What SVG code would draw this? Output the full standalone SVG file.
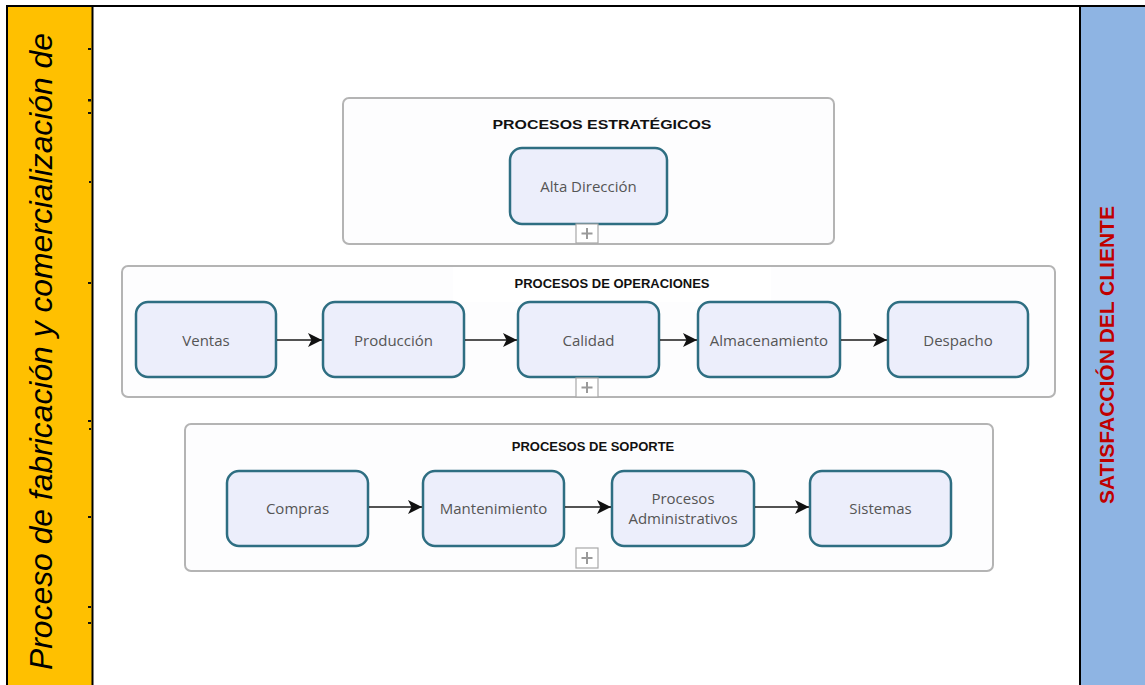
<svg xmlns="http://www.w3.org/2000/svg" width="1145" height="685" viewBox="0 0 1145 685">
  <style>
    .group { fill: #fdfdfe; stroke: #b4b4b4; stroke-width: 2; }
    .node { fill: #eceefb; stroke: #2e6e82; stroke-width: 2.5; }
    .label { font-family: "Open Sans", "Noto Sans", sans-serif; font-size: 15px; fill: #555555; text-anchor: middle; dominant-baseline: central; }
    .title { font-family: "Liberation Sans", Arial, sans-serif; font-weight: bold; font-size: 13px; fill: #111111; text-anchor: middle; }
    .plus { fill: #ffffff; stroke: #a8a8a8; stroke-width: 1.2; }
    .plusmark { stroke: #9a9a9a; stroke-width: 2; }
    .flow { stroke: #1a1a1a; stroke-width: 1.6; fill: none; marker-end: url(#arrow); }
    .tick { fill: #111111; }
  </style>
  <defs>
    <marker id="arrow" viewBox="0 0 14 14" refX="14" refY="7" markerWidth="14" markerHeight="14" markerUnits="userSpaceOnUse" orient="auto">
      <path d="M0,0 L14,7 L0,14 L3.5,7 Z" fill="#111111"/>
    </marker>
  </defs>

  <!-- page background -->
  <rect x="0" y="0" width="1145" height="685" fill="#ffffff"/>

  <!-- left band -->
  <g id="left-band">
    <rect x="8" y="6" width="84" height="679" fill="#ffc000"/>
    <line x1="92.5" y1="5" x2="92.5" y2="685" stroke="#000" stroke-width="2"/>
    <line x1="7" y1="5" x2="7" y2="685" stroke="#000" stroke-width="2"/>
    <text transform="translate(52,670) rotate(-90)" font-family="Liberation Sans, Arial, sans-serif" font-style="italic" font-size="31.5" textLength="637" lengthAdjust="spacingAndGlyphs" fill="#000">Proceso de fabricación y comercialización de</text>
    <rect class="tick" x="88" y="48" width="3" height="2"/>
    <rect class="tick" x="88" y="99" width="3" height="2.5"/>
    <rect class="tick" x="88" y="112" width="3" height="2"/>
    <rect class="tick" x="89" y="181" width="2" height="2"/>
    <rect class="tick" x="88" y="282" width="3" height="2"/>
    <rect class="tick" x="88" y="420" width="3" height="2"/>
    <rect class="tick" x="89" y="428" width="2" height="2"/>
    <rect class="tick" x="88" y="516" width="3" height="2"/>
    <rect class="tick" x="88" y="606" width="3" height="2"/>
    <rect class="tick" x="88" y="622" width="3" height="2"/>
  </g>

  <!-- right band -->
  <g id="right-band">
    <rect x="1081" y="6" width="64" height="679" fill="#8eb4e3"/>
    <line x1="1080" y1="5" x2="1080" y2="685" stroke="#000" stroke-width="2"/>
    <text transform="translate(1114,355) rotate(-90)" font-family="Liberation Sans, Arial, sans-serif" font-weight="bold" font-size="21" fill="#c00000" text-anchor="middle">SATISFACCIÓN DEL CLIENTE</text>
  </g>

  <!-- top rule -->
  <line x1="6" y1="6" x2="1145" y2="6" stroke="#000" stroke-width="2"/>

  <!-- strategic processes -->
  <g id="grp-estrategicos">
    <rect class="group" x="343" y="98" width="491" height="146" rx="6"/>
    <text class="title" x="602" y="129" font-size="15" textLength="219" lengthAdjust="spacingAndGlyphs">PROCESOS ESTRATÉGICOS</text>
    <g id="node-alta-direccion">
      <rect class="node" x="510" y="148" width="157" height="76" rx="12"/>
      <text class="label" x="588.5" y="186">Alta Dirección</text>
    </g>
    <rect class="plus" x="576" y="224" width="22" height="19"/>
    <path class="plusmark" d="M587,228 V239 M581.5,233.5 H592.5"/>
  </g>

  <!-- operations processes -->
  <g id="grp-operaciones">
    <rect class="group" x="122" y="266" width="933" height="131" rx="6"/>
    <rect x="453" y="267" width="318" height="35" fill="#ffffff"/>
    <text class="title" x="612" y="288" font-size="12.5">PROCESOS DE OPERACIONES</text>
    <g id="node-ventas">
      <rect class="node" x="136" y="302" width="140" height="75" rx="12"/>
      <text class="label" x="206" y="340">Ventas</text>
    </g>
    <g id="node-produccion">
      <rect class="node" x="323" y="302" width="141" height="75" rx="12"/>
      <text class="label" x="393.5" y="340">Producción</text>
    </g>
    <g id="node-calidad">
      <rect class="node" x="518" y="302" width="141" height="75" rx="12"/>
      <text class="label" x="588.5" y="340">Calidad</text>
    </g>
    <g id="node-almacenamiento">
      <rect class="node" x="698" y="302" width="142" height="75" rx="12"/>
      <text class="label" x="769" y="340">Almacenamiento</text>
    </g>
    <g id="node-despacho">
      <rect class="node" x="888" y="302" width="140" height="75" rx="12"/>
      <text class="label" x="958" y="340">Despacho</text>
    </g>
    <rect class="plus" x="576" y="378" width="22" height="19"/>
    <path class="plusmark" d="M587,382 V393 M581.5,387.5 H592.5"/>
  </g>

  <!-- support processes -->
  <g id="grp-soporte">
    <rect class="group" x="185" y="424" width="808" height="147" rx="6"/>
    <text class="title" x="593" y="451" font-size="12.5">PROCESOS DE SOPORTE</text>
    <g id="node-compras">
      <rect class="node" x="227" y="471" width="141" height="75" rx="12"/>
      <text class="label" x="297.5" y="508">Compras</text>
    </g>
    <g id="node-mantenimiento">
      <rect class="node" x="423" y="471" width="141" height="75" rx="12"/>
      <text class="label" x="493.5" y="508">Mantenimiento</text>
    </g>
    <g id="node-administrativos">
      <rect class="node" x="612" y="471" width="142" height="75" rx="12"/>
      <text class="label" x="683" y="498">Procesos</text>
      <text class="label" x="683" y="518">Administrativos</text>
    </g>
    <g id="node-sistemas">
      <rect class="node" x="810" y="471" width="141" height="75" rx="12"/>
      <text class="label" x="880.5" y="508">Sistemas</text>
    </g>
    <rect class="plus" x="576" y="548" width="22" height="20"/>
    <path class="plusmark" d="M587,552 V564 M581.5,558 H592.5"/>
  </g>

  <!-- connectors -->
  <g id="connectors">
    <line class="flow" x1="277" y1="340" x2="322" y2="340"/>
    <line class="flow" x1="465" y1="340" x2="517" y2="340"/>
    <line class="flow" x1="660" y1="340" x2="697" y2="340"/>
    <line class="flow" x1="841" y1="340" x2="887" y2="340"/>
    <line class="flow" x1="369" y1="507" x2="422" y2="507"/>
    <line class="flow" x1="565" y1="507" x2="611" y2="507"/>
    <line class="flow" x1="755" y1="507" x2="809" y2="507"/>
  </g>
</svg>
